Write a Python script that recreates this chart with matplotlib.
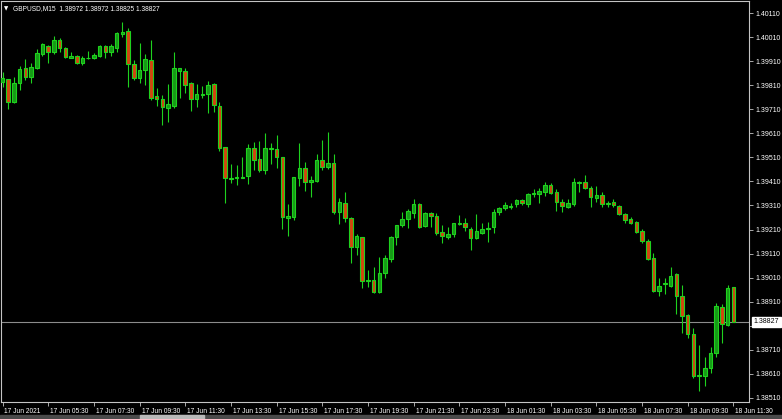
import matplotlib
matplotlib.use("Agg")
import matplotlib.pyplot as plt
import matplotlib.transforms as mtransforms
import numpy as np

W, H = 782, 419

TITLE = "GBPUSD,M15  1.38972 1.38972 1.38825 1.38827"
LAST_PRICE = 1.38827

# M15 bars, 17 Jun 03:30 .. 18 Jun 11:30
opens = [
    1.39823, 1.39835, 1.39740, 1.39819, 1.39881, 1.39844, 1.39881, 1.39939, 1.39973, 1.39948,
    1.39998, 1.39964, 1.39923, 1.39931, 1.39902, 1.39922, 1.39923, 1.39931, 1.39973, 1.39948,
    1.39964, 1.40023, 1.40035, 1.39898, 1.39839, 1.39873, 1.39914, 1.39765, 1.39752, 1.39715,
    1.39723, 1.39869, 1.39869, 1.39819, 1.39752, 1.39769, 1.39773, 1.39815, 1.39723, 1.39552,
    1.39419, 1.39424, 1.39426, 1.39432, 1.39548, 1.39503, 1.39457, 1.39544, 1.39544, 1.39511,
    1.39257, 1.39261, 1.39424, 1.39465, 1.39407, 1.39411, 1.39498, 1.39469, 1.39486, 1.39282,
    1.39320, 1.39257, 1.39137, 1.39178, 1.38995, 1.38999, 1.38949, 1.39028, 1.39087, 1.39178,
    1.39228, 1.39253, 1.39278, 1.39315, 1.39224, 1.39278, 1.39265, 1.39199, 1.39178, 1.39190,
    1.39232, 1.39236, 1.39211, 1.39174, 1.39195, 1.39211, 1.39220, 1.39282, 1.39299, 1.39303,
    1.39315, 1.39332, 1.39315, 1.39357, 1.39357, 1.39365, 1.39394, 1.39365, 1.39324, 1.39303,
    1.39315, 1.39403, 1.39407, 1.39382, 1.39340, 1.39353, 1.39315, 1.39324, 1.39307, 1.39274,
    1.39253, 1.39240, 1.39203, 1.39161, 1.39091, 1.38954, 1.38983, 1.38974, 1.39024, 1.38933,
    1.38854, 1.38775, 1.38600, 1.38600, 1.38633, 1.38695, 1.38887, 1.38812, 1.38972,
]
highs = [
    1.39864, 1.39837, 1.39844, 1.39889, 1.39919, 1.39902, 1.39960, 1.39985, 1.39977, 1.40014,
    1.40006, 1.39969, 1.39948, 1.39935, 1.39931, 1.39952, 1.39944, 1.39977, 1.39977, 1.39981,
    1.40031, 1.40073, 1.40048, 1.39914, 1.39985, 1.39939, 1.39998, 1.39798, 1.39769, 1.39815,
    1.39948, 1.39883, 1.39881, 1.39823, 1.39815, 1.39806, 1.39827, 1.39819, 1.39740, 1.39554,
    1.39482, 1.39478, 1.39511, 1.39565, 1.39573, 1.39577, 1.39611, 1.39569, 1.39602, 1.39513,
    1.39315, 1.39430, 1.39569, 1.39490, 1.39432, 1.39523, 1.39582, 1.39615, 1.39523, 1.39340,
    1.39365, 1.39261, 1.39190, 1.39180, 1.39041, 1.39053, 1.39095, 1.39103, 1.39182, 1.39230,
    1.39282, 1.39295, 1.39336, 1.39320, 1.39282, 1.39282, 1.39278, 1.39228, 1.39220, 1.39238,
    1.39270, 1.39257, 1.39220, 1.39274, 1.39236, 1.39240, 1.39295, 1.39303, 1.39324, 1.39320,
    1.39336, 1.39336, 1.39361, 1.39378, 1.39382, 1.39407, 1.39403, 1.39378, 1.39336, 1.39336,
    1.39424, 1.39411, 1.39436, 1.39390, 1.39390, 1.39365, 1.39328, 1.39336, 1.39311, 1.39278,
    1.39261, 1.39245, 1.39211, 1.39170, 1.39112, 1.39007, 1.39007, 1.39053, 1.39028, 1.38978,
    1.38858, 1.38800, 1.38729, 1.38679, 1.38720, 1.38904, 1.38900, 1.38978, 1.38972,
]
lows = [
    1.39802, 1.39710, 1.39735, 1.39790, 1.39831, 1.39819, 1.39879, 1.39931, 1.39902, 1.39939,
    1.39948, 1.39923, 1.39921, 1.39898, 1.39894, 1.39919, 1.39919, 1.39927, 1.39923, 1.39931,
    1.39948, 1.40010, 1.39802, 1.39831, 1.39819, 1.39810, 1.39748, 1.39723, 1.39644, 1.39656,
    1.39715, 1.39756, 1.39777, 1.39702, 1.39719, 1.39756, 1.39694, 1.39698, 1.39536, 1.39320,
    1.39403, 1.39394, 1.39424, 1.39398, 1.39457, 1.39449, 1.39440, 1.39482, 1.39465, 1.39211,
    1.39182, 1.39249, 1.39390, 1.39369, 1.39344, 1.39407, 1.39457, 1.39461, 1.39274, 1.39232,
    1.39240, 1.39070, 1.39103, 1.38966, 1.38970, 1.38945, 1.38945, 1.39007, 1.39074, 1.39145,
    1.39220, 1.39215, 1.39257, 1.39218, 1.39220, 1.39220, 1.39186, 1.39153, 1.39170, 1.39178,
    1.39228, 1.39203, 1.39124, 1.39170, 1.39193, 1.39157, 1.39195, 1.39270, 1.39290, 1.39295,
    1.39303, 1.39311, 1.39303, 1.39344, 1.39320, 1.39349, 1.39357, 1.39286, 1.39282, 1.39301,
    1.39307, 1.39365, 1.39378, 1.39303, 1.39324, 1.39303, 1.39303, 1.39303, 1.39270, 1.39236,
    1.39232, 1.39195, 1.39153, 1.39082, 1.38949, 1.38933, 1.38941, 1.38970, 1.38858, 1.38779,
    1.38758, 1.38592, 1.38537, 1.38558, 1.38612, 1.38679, 1.38737, 1.38808, 1.38825,
]
closes = [
    1.39839, 1.39740, 1.39819, 1.39877, 1.39844, 1.39885, 1.39944, 1.39981, 1.39948, 1.39998,
    1.39964, 1.39927, 1.39931, 1.39902, 1.39923, 1.39924, 1.39935, 1.39973, 1.39948, 1.39973,
    1.40027, 1.40031, 1.39898, 1.39839, 1.39873, 1.39919, 1.39756, 1.39752, 1.39719, 1.39731,
    1.39881, 1.39881, 1.39810, 1.39752, 1.39773, 1.39773, 1.39810, 1.39727, 1.39548, 1.39424,
    1.39424, 1.39428, 1.39429, 1.39548, 1.39498, 1.39457, 1.39548, 1.39548, 1.39511, 1.39261,
    1.39265, 1.39428, 1.39465, 1.39407, 1.39415, 1.39498, 1.39469, 1.39486, 1.39282, 1.39324,
    1.39257, 1.39137, 1.39182, 1.38995, 1.38999, 1.38949, 1.39028, 1.39091, 1.39178, 1.39228,
    1.39253, 1.39286, 1.39315, 1.39220, 1.39278, 1.39265, 1.39195, 1.39182, 1.39190, 1.39236,
    1.39236, 1.39220, 1.39174, 1.39203, 1.39211, 1.39215, 1.39282, 1.39299, 1.39311, 1.39307,
    1.39332, 1.39320, 1.39357, 1.39361, 1.39369, 1.39394, 1.39361, 1.39324, 1.39307, 1.39320,
    1.39407, 1.39407, 1.39382, 1.39344, 1.39353, 1.39315, 1.39320, 1.39311, 1.39274, 1.39249,
    1.39236, 1.39199, 1.39161, 1.39087, 1.38954, 1.38974, 1.38987, 1.39016, 1.38933, 1.38850,
    1.38775, 1.38600, 1.38604, 1.38633, 1.38695, 1.38891, 1.38816, 1.38966, 1.38827,
]

time_labels = [
    "17 Jun 2021", "17 Jun 05:30", "17 Jun 07:30", "17 Jun 09:30", "17 Jun 11:30",
    "17 Jun 13:30", "17 Jun 15:30", "17 Jun 17:30", "17 Jun 19:30", "17 Jun 21:30",
    "17 Jun 23:30", "18 Jun 01:30", "18 Jun 03:30", "18 Jun 05:30", "18 Jun 07:30",
    "18 Jun 09:30", "18 Jun 11:30",
]
BARS_PER_LABEL = 8  # one label every 2 hours

BULL_FILL = "#179a17"
BEAR_FILL = "#d2460f"
EDGE = "#1ed21e"
FRAME = "#c4c4c4"

plt.rcParams['font.family'] = ['Liberation Sans', 'DejaVu Sans']

o = np.array(opens)
h = np.array(highs)
l = np.array(lows)
c = np.array(closes)
x = np.arange(len(o))
up = c >= o

fig = plt.figure(figsize=(W / 100, H / 100), dpi=100, facecolor="black")
ax = fig.add_axes([1 / W, 17 / H, 748 / W, 401 / H], facecolor="black")

px_per_bar = 5.71
ax.set_xlim((1 - 2.5) / px_per_bar, (749 - 2.5) / px_per_bar)
ax.set_ylim(1.38493, 1.40160)

ax.axhline(LAST_PRICE, color="#8c8c8c", lw=0.8, zorder=1)

ax.vlines(x, l, h, color=EDGE, lw=0.8, zorder=2)
ax.bar(x, np.abs(c - o), width=0.62, bottom=np.minimum(o, c),
       color=np.where(up, BULL_FILL, BEAR_FILL), edgecolor=EDGE, linewidth=0.8, zorder=3)

for sp in ax.spines.values():
    sp.set_color(FRAME)
    sp.set_linewidth(0.8)

# price scale on the right
ax.yaxis.tick_right()
ax.set_yticks(np.arange(1.38510, 1.40111, 0.001))
ax.yaxis.set_major_formatter(plt.FuncFormatter(lambda v, p: f"{v:.5f}"))
ax.tick_params(axis="y", colors=FRAME, labelcolor="white", length=3, width=0.6,
               labelsize=5, pad=2)

# time scale
ax.set_xticks(x[::BARS_PER_LABEL], time_labels)
ax.tick_params(axis="x", colors=FRAME, labelcolor="white", length=3, width=0.6,
               labelsize=4.8, pad=1.5)
shift = mtransforms.ScaledTranslation(2 / 100, 0, fig.dpi_scale_trans)
for lbl in ax.get_xticklabels():
    lbl.set_ha("left")
    lbl.set_transform(lbl.get_transform() + shift)

# current price tag (covers the 1.38810 grid label, as in the terminal)
ax.annotate(f"{LAST_PRICE:.5f}", xy=(1, LAST_PRICE), xycoords=("axes fraction", "data"),
            xytext=(3.5, 0), textcoords="offset points", ha="left", va="center",
            fontsize=5, color="black", zorder=10, annotation_clip=False,
            bbox=dict(boxstyle="square,pad=0.2", fc="white", ec="white"))

# chart header
fig.text(4 / W, 1 - 9 / H, "▼", fontsize=4, color="white", va="center", family="DejaVu Sans")
fig.text(13 / W, 1 - 9 / H, TITLE, fontsize=4.8, color="white", va="center")

# window tabs strip at the bottom
fig.patches.append(plt.Rectangle((0, 0), 1, 4 / H, transform=fig.transFigure,
                                 color="#4a4a4a", zorder=0))
fig.patches.append(plt.Rectangle((140 / W, 0), 64 / W, 4 / H, transform=fig.transFigure,
                                 color="#b8b8b8", zorder=0))

fig.savefig("out.png", dpi=100, facecolor="black")
